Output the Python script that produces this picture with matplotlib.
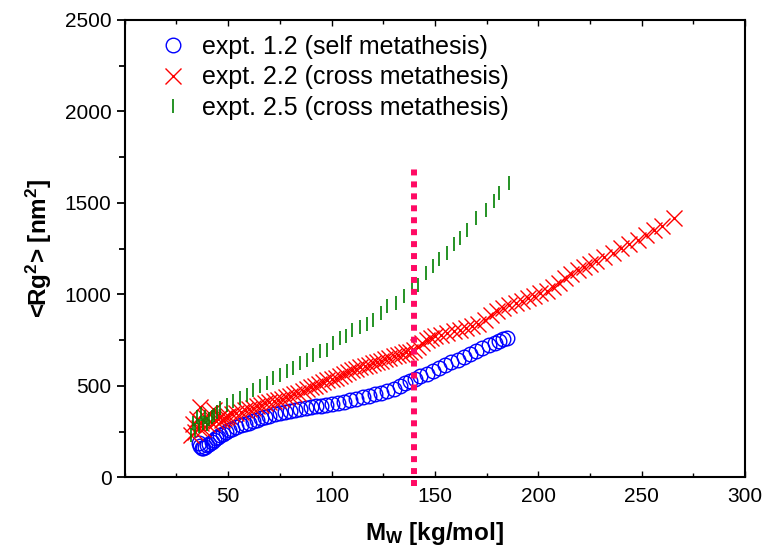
import matplotlib
matplotlib.use("Agg")
import matplotlib.pyplot as plt
from matplotlib.ticker import MultipleLocator

plt.rcParams['font.family'] = ['Liberation Sans', 'DejaVu Sans']
plt.rcParams['mathtext.default'] = 'regular'

# expt. 1.2 (self metathesis)
self_mw = [35.7, 36.5, 37.3, 38, 39, 40, 41, 42, 43, 44, 45, 46, 47.5, 49, 50.5, 52, 54, 56, 58, 60,
           62, 64, 66, 68, 70, 72.5, 75, 77.5, 80, 82.5, 85, 87.5, 90, 92.5, 95, 97.5, 100, 103, 106,
           109, 112, 115, 118, 121, 124, 127, 130, 133, 135.5, 138, 140.5, 143, 146, 149, 152, 155,
           158, 161, 164, 167, 170, 173, 176, 179, 181, 183, 185]
self_rg2 = [188, 172, 163, 160, 165, 175, 185, 195, 205, 214, 222, 230, 240, 250, 258, 266, 275, 284, 292, 300,
            308, 316, 323, 331, 338, 345, 352, 358, 364, 369, 374, 379, 384, 388, 392, 396, 400, 406, 414,
            422, 430, 438, 446, 455, 463, 473, 485, 500, 515, 527, 540, 552, 566, 580, 598, 614,
            630, 644, 658, 675, 693, 708, 722, 735, 745, 755, 760]

# expt. 2.2 (cross metathesis)
cross22_mw = [32, 33, 34, 35, 36, 36.5, 37, 38, 39, 40, 41, 42, 43, 44, 45, 46, 47, 48, 49, 50, 52, 54,
              56, 58, 60, 62, 64, 66, 68, 70, 72, 74, 76, 78, 80, 82, 84, 86, 88, 90, 92, 94, 96, 98,
              100, 102, 104, 106, 108, 110, 112, 114, 116, 118, 120, 122, 124, 126, 128, 130, 132, 134,
              136, 138, 140, 142, 144, 146, 148, 150, 153, 156, 159, 162, 165, 168, 171, 174, 177, 180,
              183, 186, 189, 192, 195, 198, 201, 204, 207, 210, 213, 216, 219, 222, 225, 228, 232, 236,
              240, 244, 248, 252, 256, 260, 265.5]
cross22_rg2 = [230, 290, 250, 320, 270, 385, 300, 265, 330, 290, 350, 300, 370, 310, 320, 330, 315, 325, 333,
               338, 345, 352, 360, 368, 374, 382, 390, 398, 405, 412, 418, 424, 430, 438, 446, 455, 464,
               472, 482, 492, 502, 512, 521, 530, 538, 546, 556, 566, 576, 585, 594, 602, 610, 617, 624,
               631, 638, 646, 654, 662, 669, 677, 683, 688, 695, 712, 735, 753, 764, 772, 780, 788, 798,
               808, 818, 828, 840, 860, 885, 910, 928, 942, 953, 965, 980, 993, 1006, 1020, 1040, 1065,
               1090, 1112, 1132, 1150, 1168, 1185, 1207, 1229, 1252, 1274, 1298, 1325, 1350, 1375, 1420]

# expt. 2.5 (cross metathesis)
cross25_mw = [32, 33, 34, 35, 36, 37, 38, 39, 40, 41, 42, 43, 44.5, 46.1, 49.3, 52.6, 55.8, 59, 62.2,
              65.4, 68.7, 71.9, 75, 78.3, 81.6, 84.7, 88, 91, 94.4, 97.6, 100.7, 104, 107, 110, 113.6,
              117, 120, 124, 127, 131, 135, 139, 141.6, 145.5, 148.9, 152, 156, 159.4, 162, 165.3, 170,
              174.7, 178.4, 181, 185.6]
cross25_rg2 = [230, 300, 260, 330, 280, 345, 300, 330, 290, 320, 330, 340, 360, 380, 398, 416, 434, 452, 480,
               498, 516, 545, 562, 580, 598, 626, 644, 671, 689, 698, 736, 764, 772, 808, 820,
               840, 863, 900, 935, 955, 990, 1045, 1054, 1119, 1154, 1191, 1228, 1273, 1311, 1350, 1420,
               1464, 1510, 1556, 1610]

marker_mw = 140
marker_range = [-45, 1690]

fig = plt.figure(figsize=(7.65, 5.52), dpi=100)
ax = fig.add_axes([0.163, 0.135, 0.811, 0.829])

ax.plot(self_mw, self_rg2, linestyle='none', marker='o', markersize=10.5, markerfacecolor='none',
        markeredgecolor='#0000FF', markeredgewidth=1.0, label='expt. 1.2 (self metathesis)')
ax.plot(cross22_mw, cross22_rg2, linestyle='none', marker='x', markersize=11,
        color='#FF0000', markeredgewidth=1.0, label='expt. 2.2 (cross metathesis)')
ax.plot(cross25_mw, cross25_rg2, linestyle='none', marker='|', markersize=9.5,
        color='#008000', markeredgewidth=1.2, label='expt. 2.5 (cross metathesis)')

ax.plot([marker_mw, marker_mw], marker_range, color='#FF0A64', linewidth=4.3,
        linestyle=(0, (1, 1)), clip_on=False)

ax.set_xlim(0, 300)
ax.set_ylim(0, 2500)
ax.set_xticks([50, 100, 150, 200, 250, 300])
ax.xaxis.set_minor_locator(MultipleLocator(25))
ax.yaxis.set_major_locator(MultipleLocator(500))
ax.yaxis.set_minor_locator(MultipleLocator(250))

ax.tick_params(axis='x', which='both', direction='in', top=True, labelsize=15, pad=7)
ax.tick_params(axis='x', which='major', length=4, width=1)
ax.tick_params(axis='x', which='minor', length=3, width=1)
ax.tick_params(axis='y', which='both', direction='out', right=False, labelsize=15)
ax.tick_params(axis='y', which='major', length=6, width=1.3)
ax.tick_params(axis='y', which='minor', length=4, width=1.3)
for s in ax.spines.values():
    s.set_linewidth(1.5)

ax.set_xlabel(r'M$_{W}$ [kg/mol]', fontsize=17.5, fontweight='bold', labelpad=10)
ax.set_ylabel(r'<Rg$^{2}$> [nm$^{2}$]', fontsize=17.5, fontweight='bold', labelpad=8)

ax.legend(loc='upper left', frameon=False, fontsize=18, handletextpad=0.15,
          borderaxespad=0.3, labelspacing=0.25, bbox_to_anchor=(0.01, 1.005))

fig.savefig('out.png', dpi=100)
